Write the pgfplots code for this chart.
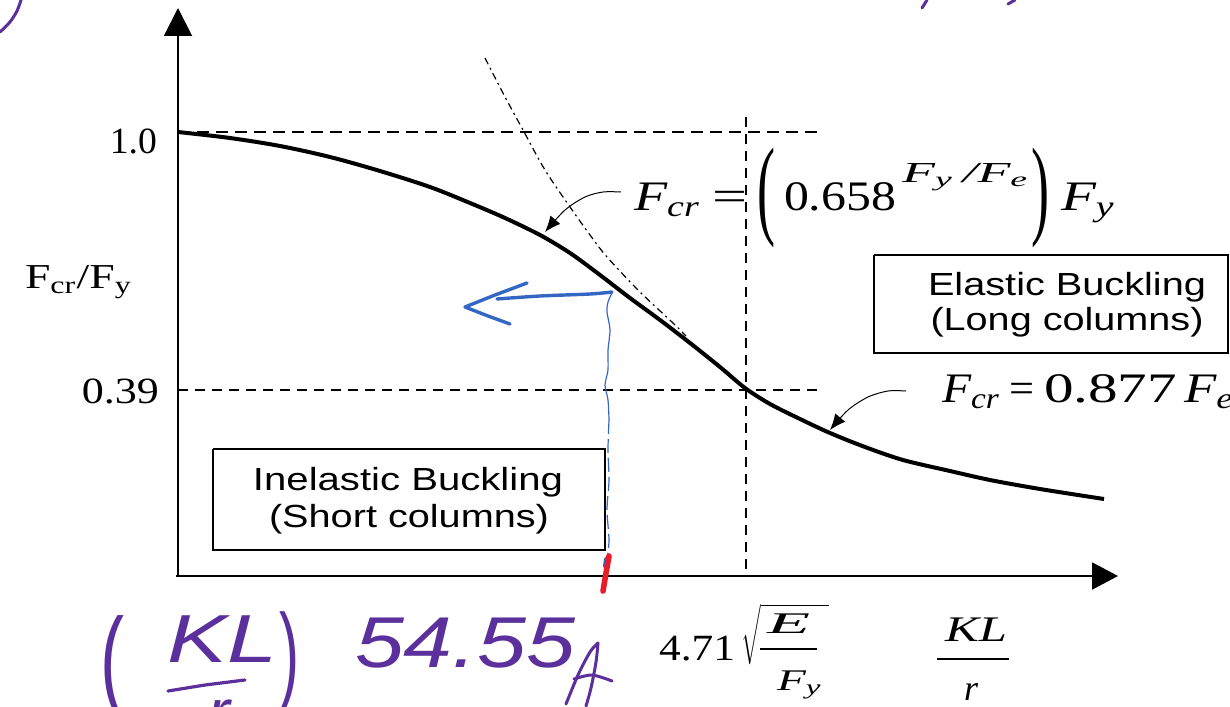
\documentclass[border=0pt]{standalone}
\usepackage{fontspec}
\setmainfont{Liberation Serif}
\setsansfont{Liberation Sans}
\usepackage{graphicx}
\usepackage{pgfplots}
\pgfplotsset{compat=1.18}
\usetikzlibrary{arrows.meta}

\definecolor{inkblue}{RGB}{52,102,196}
\definecolor{inkpurple}{RGB}{92,48,156}
\definecolor{inkred}{RGB}{232,28,40}

% stretch a piece of text horizontally to a given width
\newcommand\W[2]{\resizebox{#1}{\height}{#2}}
\newcommand\fs[1]{\fontsize{#1}{#1}\selectfont}

\begin{document}
\begin{tikzpicture}
\begin{axis}[
  width=615pt, height=353pt, scale only axis,
  xmin=0, xmax=1230, ymin=0, ymax=706, y dir=reverse,
  hide axis, clip=false,
  every node/.style={inner sep=0pt},
]
% axes with arrow heads
\addplot[line width=1pt, -{Triangle[length=14pt,width=14pt]}] coordinates {(178,577) (178,8)};
\addplot[line width=1pt, -{Triangle[length=13pt,width=13.5pt]}] coordinates {(176,576) (1118,576)};

% reference lines
\addplot[line width=1.4pt, dash pattern=on 6pt off 3.5pt] coordinates {(178,132) (821,132)};
\addplot[line width=0.7pt, dash pattern=on 5pt off 3.5pt] coordinates {(178,390) (822,390)};
\addplot[line width=0.7pt, dash pattern=on 5pt off 3.5pt] coordinates {(746,117) (746,575)};

% Euler curve continued into the inelastic range
\addplot[line width=0.6pt, smooth, dash pattern=on 3.5pt off 2pt on 1pt off 2pt]
  coordinates {(485,58) (504,95) (523,130) (545,170) (570,207) (590,235) (607,257) (640,292) (673,323) (686,336)};

% column strength curve
\addplot[line width=2pt, smooth, tension=0.5] coordinates {
  (178,132) (230,138) (280,146) (330,157) (380,171) (430,187) (470,203)
  (505,218) (540,235) (570,253) (600,275) (630,298) (660,320) (690,343)
  (720,367) (745,388) (770,404) (800,419) (830,433) (865,447) (903,460)
  (950,471) (990,480) (1040,489) (1104,499)};

% pointers to the curve
\addplot[line width=0.5pt, smooth, -{Latex[length=8pt,width=6.5pt]}]
  coordinates {(621,192) (603,192) (585,197) (565,210) (545,232)};
\addplot[line width=0.5pt, smooth, -{Latex[length=8pt,width=6.5pt]}]
  coordinates {(906,391) (888,391) (868,397) (848,410) (830,430)};

% region boxes
\addplot[line width=0.9pt] coordinates {(874,255) (1228,255) (1228,353) (874,353) (874,255)};
\addplot[line width=0.9pt] coordinates {(213,449) (605,449) (605,550) (213,550) (213,449)};

% tick labels and axis title
\node[anchor=base east] at (164,153) {\W{23.5pt}{\fs{18.5}1.0}};
\node[anchor=base east] at (166,403) {\W{38.5pt}{\fs{18.5}0.39}};
\node[anchor=base west] at (18,288) {\W{53.5pt}{\fs{17.5}F\textsubscript{cr}/F\textsubscript{y}}};

% box texts
\node[anchor=base] at (1067,295) {\W{139pt}{\sffamily\fs{16}Elastic Buckling}};
\node[anchor=base] at (1067,330) {\W{136.5pt}{\sffamily\fs{16}(Long columns)}};
\node[anchor=base] at (408,490) {\W{155pt}{\sffamily\fs{16}Inelastic Buckling}};
\node[anchor=base] at (409,527) {\W{140pt}{\sffamily\fs{16}(Short columns)}};

% inelastic formula
\node[anchor=base west] at (627,210) {\W{33pt}{\fs{21}\itshape F\textsubscript{cr}}};
\node[anchor=base west] at (705,210) {\W{17.5pt}{\fs{21}=}};
\node at (766,198) {\resizebox*{9pt}{50pt}{\fs{21}(}};
\node[anchor=base west] at (777,210) {\W{56pt}{\fs{21}0.658}};
\node[anchor=base west] at (895,182) {\W{63.5pt}{\fs{14.5}\itshape F\textsubscript{y}\,/F\textsubscript{e}}};
\node at (1040,198) {\resizebox*{9pt}{50pt}{\fs{21})}};
\node[anchor=base west] at (1054,210) {\W{27pt}{\fs{21}\itshape F\textsubscript{y}}};

% elastic formula
\node[anchor=base west] at (935,402) {\W{29pt}{\fs{21}\itshape F\textsubscript{cr}}};
\node[anchor=base west] at (1002,402) {\W{12.5pt}{\fs{21}=}};
\node[anchor=base west] at (1037,402) {\W{66.5pt}{\fs{21}0.877}};
\node[anchor=base west] at (1177,402) {\W{25pt}{\fs{21}\itshape F\textsubscript{e}}};

% x axis labels: limit of slenderness and slenderness ratio
\node[anchor=base west] at (652,660) {\W{38pt}{\fs{18.5}4.71}};
\node[anchor=north west] at (734,597) {\W{44pt}{$\sqrt{\rule[-29pt]{0pt}{28pt}\rule{35pt}{0pt}}$}};
\node[anchor=base west] at (760,633) {\W{21.5pt}{\fs{15}\itshape E}};
\addplot[line width=0.8pt] coordinates {(760,649) (817,649)};
\node[anchor=base west] at (770,690) {\W{22.5pt}{\fs{15}\itshape F\textsubscript{y}}};
\node[anchor=base west] at (938,641) {\W{31pt}{\fs{18}\itshape KL}};
\addplot[line width=0.8pt] coordinates {(937,659) (1009,659)};
\node[anchor=base] at (971,700) {\fs{18}\itshape r};

% handwritten notes
\addplot[inkpurple, line width=1.5pt, smooth, line cap=round] coordinates {(0,32) (10,22) (17,11) (21,0)};
\addplot[inkpurple, line width=1.5pt, line cap=round] coordinates {(922,8) (927,0)};
\addplot[inkpurple, line width=1.5pt, line cap=round] coordinates {(1008,4) (1015,0)};
\node[text=inkpurple] at (112,668) {\resizebox*{12pt}{52pt}{\sffamily (}};
\node[text=inkpurple, anchor=base west] at (160,662) {\W{55pt}{\sffamily\itshape\fs{34}KL}};
\addplot[inkpurple, line width=1.6pt, line cap=round] coordinates {(168,691) (205,685) (245,680)};
\node[text=inkpurple, anchor=north west] at (200,693) {\sffamily\itshape\fs{34}r};
\node[text=inkpurple] at (289,662) {\resizebox*{10pt}{50pt}{\sffamily )}};
\node[text=inkpurple, anchor=base west] at (348,667) {\W{110pt}{\sffamily\itshape\fs{36}54.55}};
\addplot[inkpurple, line width=1.5pt, smooth, line cap=round] coordinates {(566,704) (578,675) (590,652) (598,643)};
\addplot[inkpurple, line width=1.5pt, smooth, line cap=round] coordinates {(598,643) (596,662) (591,688) (586,706)};
\addplot[inkpurple, line width=1.5pt, smooth, line cap=round] coordinates {(574,679) (592,675) (612,681)};

% blue arrow and guide line
\addplot[inkblue, line width=1.7pt, smooth, line cap=round] coordinates {(612,292) (590,294) (540,296) (497,299)};
\addplot[inkblue, line width=1.7pt, line cap=round, line join=round] coordinates {(527,283) (495,295) (465,307) (488,316) (510,324)};
\addplot[inkblue, line width=0.6pt, smooth] coordinates {
  (612,293) (608,302) (607,312) (610,330) (608,350) (608,370) (605,385) (608,400) (609,420)};
\addplot[inkblue, line width=0.6pt, smooth, dash pattern=on 7pt off 2.5pt] coordinates {
  (609,420) (608,450) (609,480) (607,510) (609,540) (607,560)};
\addplot[inkblue, line width=2pt, line cap=round] coordinates {(606,559) (605,566)};
\addplot[inkred, line width=2.8pt, line cap=round] coordinates {(609,556) (606,573) (603,591)};
\end{axis}
\pgfresetboundingbox
\path[use as bounding box] (0,0) rectangle (615pt,353pt);
\end{tikzpicture}
\end{document}
